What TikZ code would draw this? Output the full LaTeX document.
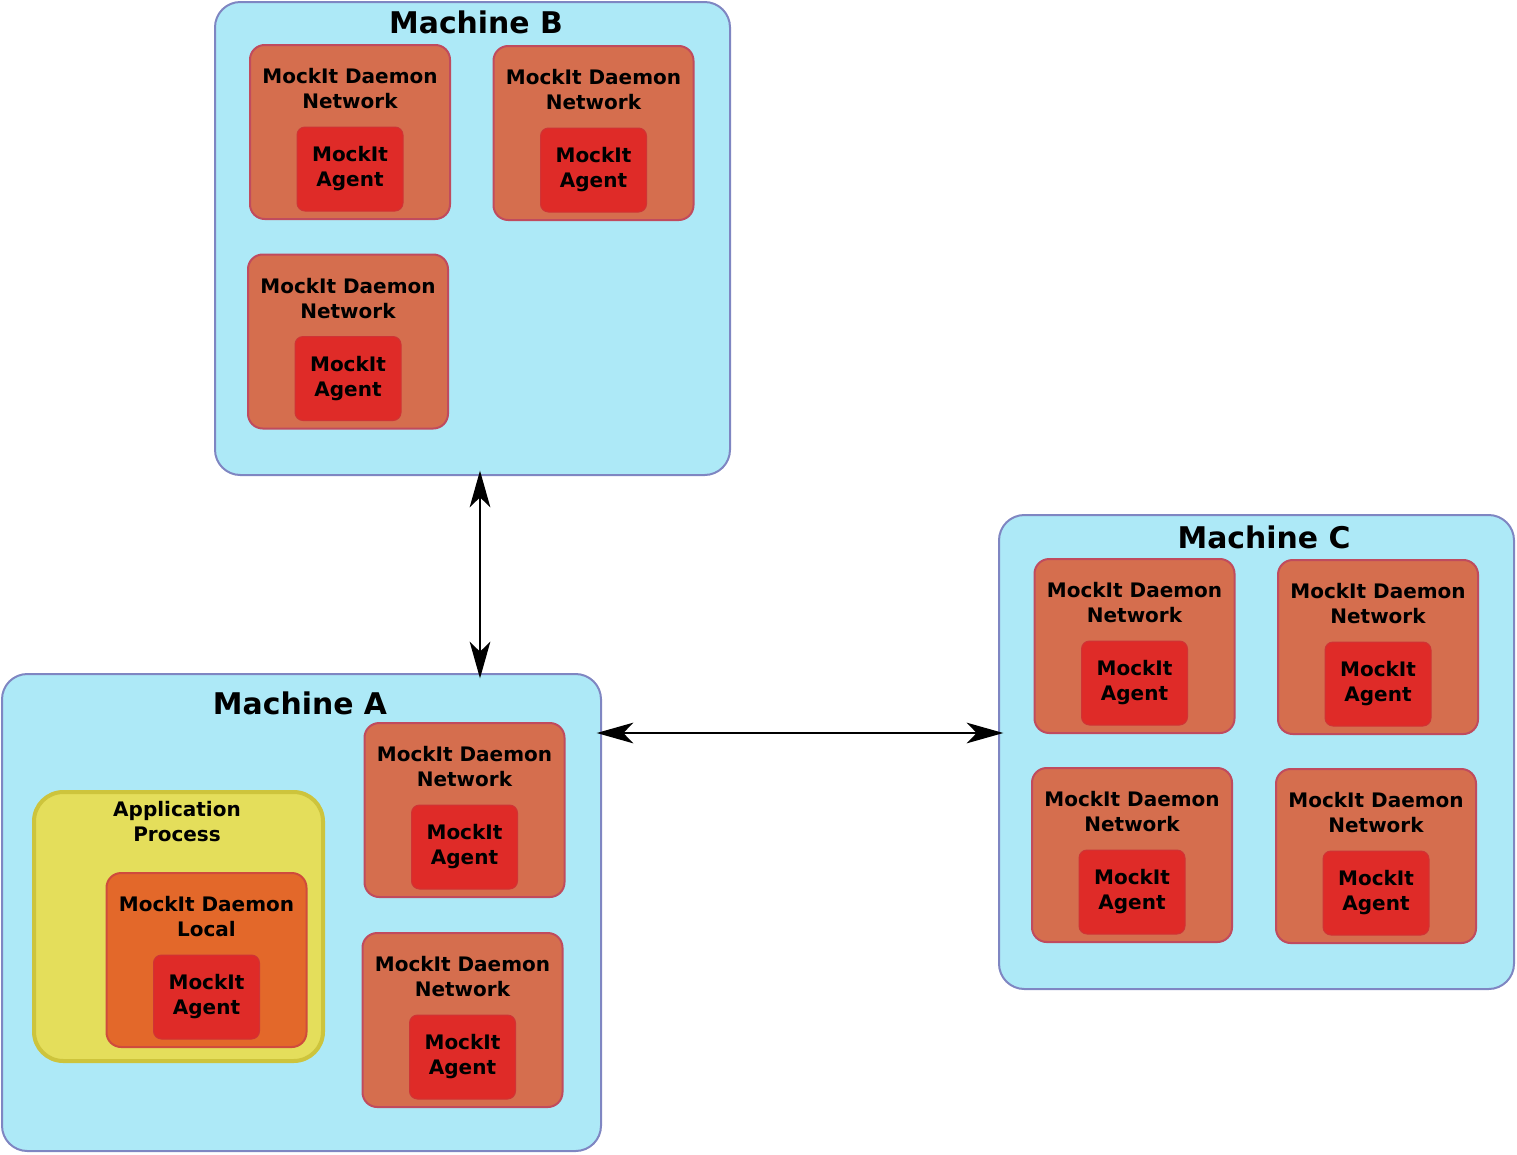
\documentclass[tikz,border=0pt]{standalone}
\usepackage{fontspec}
\setmainfont{DejaVu Sans}
\usepackage{tikz}
\usetikzlibrary{arrows.meta}

\definecolor{machinefill}{HTML}{ADE9F7}
\definecolor{machineline}{HTML}{7F86C2}
\definecolor{daemonfill}{HTML}{D56E4E}
\definecolor{daemonline}{HTML}{C04B5E}
\definecolor{localfill}{HTML}{E3682A}
\definecolor{localline}{HTML}{CF4B3C}
\definecolor{agentfill}{HTML}{DF2B28}
\definecolor{agentline}{HTML}{CF3436}
\definecolor{appfill}{HTML}{E4DE5B}
\definecolor{appline}{HTML}{CDC43C}

\newcommand{\smallfont}{\fontsize{15}{18.75}\selectfont\bfseries}
\newcommand{\titlefont}{\fontsize{22.4}{26}\selectfont\bfseries}

\tikzset{
    machine/.style={draw=machineline, fill=machinefill, line width=1.5pt, rounded corners=19pt, inner sep=0pt},
    daemon/.style={draw=daemonline, fill=daemonfill, line width=1.5pt, rounded corners=11pt, minimum width=150pt, minimum height=130.5pt, inner sep=0pt},
    localdaemon/.style={fill=localfill, draw=localline},
    agentbox/.style={draw=agentline, fill=agentfill, line width=0.75pt, rounded corners=6pt, minimum width=79.5pt, minimum height=63pt, inner sep=0pt, align=center, font=\smallfont},
    boxtext/.style={align=center, font=\smallfont, inner sep=0pt},
    machinetitle/.style={font=\titlefont, inner sep=0pt},
    appbox/.style={draw=appline, fill=appfill, line width=3pt, rounded corners=22pt, minimum width=216.75pt, minimum height=201.75pt, inner sep=0pt},
    link/.style={line width=1.5pt, shorten <=-4pt, shorten >=-4pt, {Stealth[length=27.5pt, width=15.5pt, inset=7.5pt]}-{Stealth[length=27.5pt, width=15.5pt, inset=7.5pt]}}
}

% daemon box with its agent: name, x, y (centre), second line, extra style
\newcommand{\daemonbox}[5]{%
    \node[daemon, #5] (#1) at (#2,#3) {};
    \node[boxtext] (#1-text) at (#2,#3-43) {MockIt Daemon\\#4};
    \node[agentbox] (#1-agent) at (#2,#3+37) {MockIt\\Agent};
}

\begin{document}
\begin{tikzpicture}[x=0.75pt, y=-0.75pt]
    \useasboundingbox (0,0) rectangle (1517,1154);

    % machines
    \node[machine, minimum width=386.25pt, minimum height=354.75pt] (B) at (472.5,238.5) {};
    \node[machine, minimum width=449.25pt, minimum height=357.75pt] (A) at (301.5,912.5) {};
    \node[machine, minimum width=386.25pt, minimum height=355.5pt] (C) at (1256.5,752) {};
    \node[machinetitle] (B-title) at (476,22) {Machine B};
    \node[machinetitle] (A-title) at (300,703) {Machine A};
    \node[machinetitle] (C-title) at (1264,537) {Machine C};

    % machine B
    \daemonbox{b1}{350}{132}{Network}{}
    \daemonbox{b2}{593.5}{133}{Network}{}
    \daemonbox{b3}{348}{341.5}{Network}{}

    % machine A
    \node[appbox] (app) at (178.5,926.5) {};
    \node[boxtext] (app-text) at (177,822) {Application\\Process};
    \daemonbox{local}{206.5}{960}{Local}{localdaemon}
    \daemonbox{a1}{464.5}{810}{Network}{}
    \daemonbox{a2}{462.5}{1020}{Network}{}

    % machine C
    \daemonbox{c1}{1134.5}{646}{Network}{}
    \daemonbox{c2}{1378}{647}{Network}{}
    \daemonbox{c3}{1132}{855}{Network}{}
    \daemonbox{c4}{1376}{856}{Network}{}

    % links
    \coordinate (ab) at (480,0);
    \coordinate (ac) at (0,733);
    \draw[link] (B.south -| ab) -- (A.north -| ab);
    \draw[link] (A.east |- ac) -- (C.west |- ac);
\end{tikzpicture}
\end{document}
